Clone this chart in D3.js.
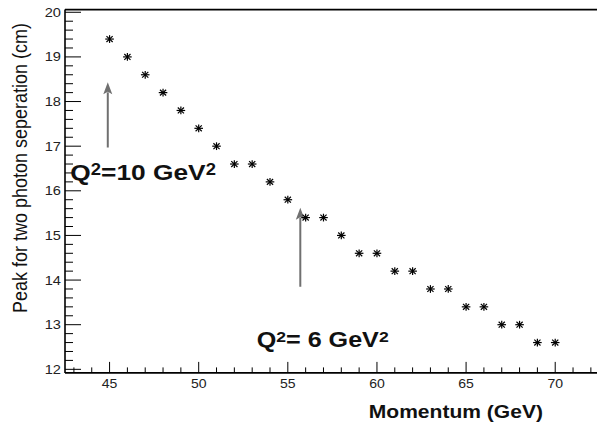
<!DOCTYPE html>
<html>
<head>
<meta charset="utf-8">
<script src="https://cdn.jsdelivr.net/npm/d3@7"></script>
<style>
  html, body { margin: 0; padding: 0; background: #fff; }
  svg { display: block; }
  svg text { font-family: Arial, "Liberation Sans", Helvetica, sans-serif; }
</style>
</head>
<body>
<svg id="chart" width="597" height="425"></svg>
<script>
// Beam momentum (GeV) and the peak two-photon separation (cm)
const momentum = [45, 46, 47, 48, 49, 50, 51, 52, 53, 54, 55, 56, 57,
                  58, 59, 60, 61, 62, 63, 64, 65, 66, 67, 68, 69, 70];
const separation = [19.4, 19.0, 18.6, 18.2, 17.8, 17.4, 17.0, 16.6, 16.6,
                    16.2, 15.8, 15.4, 15.4, 15.0, 14.6, 14.6, 14.2, 14.2,
                    13.8, 13.8, 13.4, 13.4, 13.0, 13.0, 12.6, 12.6];

const xTickValues = [45, 50, 55, 60, 65, 70];
const yTickValues = [12, 13, 14, 15, 16, 17, 18, 19, 20];

// Q^2 annotations: arrow (x, from y, to y) and label anchor, in data units
const annotLabels = ["10", " 6"];
const annotArrowX = [44.9, 55.7];
const annotArrowFrom = [16.97, 13.85];
const annotArrowTo = [18.43, 15.62];
const annotTextX = [42.8, 53.25];
const annotTextY = [16.24, 12.5];

(function () {
  const svg = d3.select("#chart");
  const padL = 65, padR = 598, padT = 9.6, padB = 372.9;
  const sx = 1.17; // horizontal stretch applied to text
  const font = "Arial, 'Liberation Sans', Helvetica, sans-serif";

  const x = d3.scaleLinear().domain([42.5, 72.4]).range([padL, padR]);
  const y = d3.scaleLinear().domain([11.92, 20.06]).range([padB, padT]);

  // top frame line
  svg.append("line").attr("x1", padL).attr("x2", 597).attr("y1", padT).attr("y2", padT)
    .attr("stroke", "#000").attr("stroke-width", 1.6);

  // x axis: ticks pointing into the frame
  const xMinor = d3.range(43, 73, 1);
  const gx = svg.append("g").attr("transform", `translate(0,${padB})`);
  gx.append("line").attr("x1", padL).attr("x2", 597).attr("stroke", "#000").attr("stroke-width", 1.6);
  gx.selectAll("line.tick").data(xMinor).join("line")
    .attr("class", "tick")
    .attr("x1", d => x(d)).attr("x2", d => x(d))
    .attr("y1", 0).attr("y2", d => xTickValues.includes(d) ? -11 : -5.5)
    .attr("stroke", "#000").attr("stroke-width", 1);
  gx.selectAll("text").data(xTickValues).join("text")
    .attr("transform", d => `translate(${x(d)},15.5) scale(${sx},1)`)
    .attr("text-anchor", "middle")
    .attr("font-family", font)
    .attr("font-size", 12)
    .attr("fill", "#222")
    .text(d => d);

  // y axis
  const yMinor = d3.range(12, 20.01, 0.2).map(v => +v.toFixed(1));
  const gy = svg.append("g").attr("transform", `translate(${padL},0)`);
  gy.append("line").attr("y1", padT).attr("y2", padB).attr("stroke", "#000").attr("stroke-width", 1.6);
  gy.selectAll("line.tick").data(yMinor).join("line")
    .attr("class", "tick")
    .attr("y1", d => y(d)).attr("y2", d => y(d))
    .attr("x1", 0).attr("x2", d => yTickValues.includes(d) ? 16 : 8)
    .attr("stroke", "#000").attr("stroke-width", 1);
  gy.selectAll("text").data(yTickValues).join("text")
    .attr("transform", d => `translate(-4,${y(d) + 4.5}) scale(${sx},1)`)
    .attr("text-anchor", "end")
    .attr("font-family", font)
    .attr("font-size", 12.5)
    .attr("fill", "#222")
    .text(d => d);

  // axis titles
  svg.append("text")
    .attr("transform", `translate(543,418) scale(${sx},1)`)
    .attr("text-anchor", "end")
    .attr("font-family", font)
    .attr("font-size", 18)
    .attr("font-weight", "bold")
    .attr("fill", "#111")
    .text("Momentum (GeV)");

  svg.append("text")
    .attr("transform", `translate(27,23) scale(${sx},1) rotate(-90)`)
    .attr("text-anchor", "end")
    .attr("font-family", font)
    .attr("font-size", 18)
    .attr("fill", "#111")
    .text("Peak for two photon seperation (cm)");

  // arrows
  const arrowColor = "#707070";
  annotArrowX.forEach((ax, i) => {
    const px = x(ax), y0 = y(annotArrowFrom[i]), y1 = y(annotArrowTo[i]);
    svg.append("line")
      .attr("x1", px).attr("x2", px).attr("y1", y0).attr("y2", y1 + 10)
      .attr("stroke", arrowColor).attr("stroke-width", 2);
    svg.append("path")
      .attr("d", `M${px},${y1} L${px - 4.5},${y1 + 12} L${px},${y1 + 9.5} L${px + 4.5},${y1 + 12} Z`)
      .attr("fill", arrowColor);
  });

  // Q^2 labels
  annotLabels.forEach((lab, i) => {
    const fs = i === 0 ? 22.5 : 21.5;
    const t = svg.append("text")
      .attr("transform", `translate(${x(annotTextX[i])},${y(annotTextY[i])}) scale(${sx},1)`)
      .attr("font-family", font)
      .attr("font-size", fs)
      .attr("font-weight", "bold")
      .attr("fill", "#111");
    t.append("tspan").text("Q");
    t.append("tspan").attr("font-size", fs * 0.7).attr("dy", -5).text("2");
    t.append("tspan").attr("dy", 5).text("=" + lab + " GeV");
    t.append("tspan").attr("font-size", fs * 0.7).attr("dy", -5).text("2");
  });

  // star markers
  const r = 4.3;
  const pts = svg.append("g").selectAll("g").data(momentum).join("g")
    .attr("transform", (d, i) => `translate(${x(d)},${y(separation[i])})`);
  const arms = [[-r, 0, r, 0], [0, -r * 0.9, 0, r * 0.9],
                [-r * 0.72, -r * 0.68, r * 0.72, r * 0.68], [-r * 0.72, r * 0.68, r * 0.72, -r * 0.68]];
  pts.selectAll("line").data(arms).join("line")
    .attr("x1", a => a[0]).attr("y1", a => a[1]).attr("x2", a => a[2]).attr("y2", a => a[3])
    .attr("stroke", "#000").attr("stroke-width", 1.2);
})();
</script>
</body>
</html>
